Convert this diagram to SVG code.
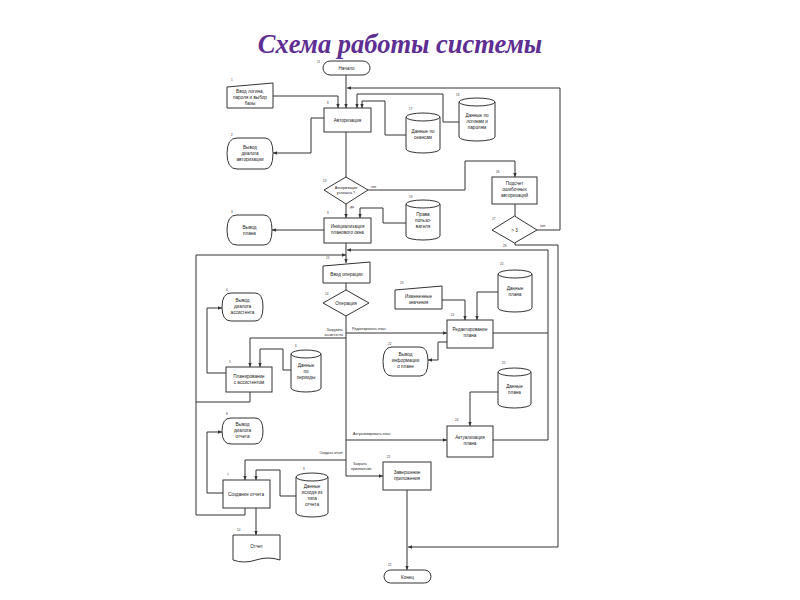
<svg xmlns="http://www.w3.org/2000/svg" width="800" height="600" viewBox="0 0 800 600">
<style>
.s{fill:#fff;stroke:#333;stroke-width:1}
.c{fill:none;stroke:#333;stroke-width:1}
.t{font-family:"Liberation Sans",Arial,sans-serif;font-size:4.6px;fill:#222;text-anchor:middle}
.n{font-family:"Liberation Sans",Arial,sans-serif;font-size:3px;fill:#333}
.l{font-family:"Liberation Sans",Arial,sans-serif;font-size:3.6px;fill:#222}
.title{font-family:"Liberation Serif","Times New Roman",serif;font-size:26.5px;font-weight:bold;font-style:italic;fill:#5e2e92;text-anchor:middle}
</style>
<defs>
<marker id="a" markerWidth="5" markerHeight="5" refX="4" refY="2.5" orient="auto" markerUnits="userSpaceOnUse">
<path d="M0,0.8 L4,2.5 L0,4.2 Z" fill="#333"/>
</marker>
</defs>
<rect width="800" height="600" fill="#fff"/>
<text class="title" x="400" y="53">Схема работы системы</text>

<g id="connectors">
<path class="c" d="M346,75 V108" marker-end="url(#a)"/>
<path class="c" d="M273,96 H338 V108" marker-end="url(#a)"/>
<path class="c" d="M537,230 H560 V88 H347" marker-end="url(#a)"/>
<path class="c" d="M459,122 H443 V94 H357 V108" marker-end="url(#a)"/>
<path class="c" d="M406,135 H385 V101 H362 V108" marker-end="url(#a)"/>
<path class="c" d="M324,118 H311 V153 H273" marker-end="url(#a)"/>
<path class="c" d="M346,132 V177"/>
<path class="c" d="M368,190 H465 V161 H515 V177" marker-end="url(#a)"/>
<path class="c" d="M515,204 V216"/>
<path class="c" d="M515,243 V245 H558 V547 H408" marker-end="url(#a)"/>
<path class="c" d="M346,204 V218" marker-end="url(#a)"/>
<path class="c" d="M406,223 H383 V208 H360 V218" marker-end="url(#a)"/>
<path class="c" d="M324,230 H272" marker-end="url(#a)"/>
<path class="c" d="M346,243 V263" marker-end="url(#a)"/>
<path class="c" d="M196,515 V255 H346" marker-end="url(#a)"/>
<path class="c" d="M548,440 V250 H347" marker-end="url(#a)"/>
<path class="c" d="M346,283 V290"/>
<path class="c" d="M346,316 V476 H383" marker-end="url(#a)"/>
<path class="c" d="M346,333 H447" marker-end="url(#a)"/>
<path class="c" d="M493,333 H548"/>
<path class="c" d="M346,338 H250 V367" marker-end="url(#a)"/>
<path class="c" d="M226,373 H207 V308 H222" marker-end="url(#a)"/>
<path class="c" d="M291,370 H283 V349 H260 V367" marker-end="url(#a)"/>
<path class="c" d="M250,392 V402 H196"/>
<path class="c" d="M346,440 H447" marker-end="url(#a)"/>
<path class="c" d="M493,440 H548"/>
<path class="c" d="M442,300 H465 V320" marker-end="url(#a)"/>
<path class="c" d="M498,292 H477 V320" marker-end="url(#a)"/>
<path class="c" d="M447,342 H438 V360 H428" marker-end="url(#a)"/>
<path class="c" d="M498,392 H470 V426" marker-end="url(#a)"/>
<path class="c" d="M346,460 H245 V480" marker-end="url(#a)"/>
<path class="c" d="M223,493 H207 V432 H222" marker-end="url(#a)"/>
<path class="c" d="M296,496 H280 V470 H256 V480" marker-end="url(#a)"/>
<path class="c" d="M256,508 V535" marker-end="url(#a)"/>
<path class="c" d="M245,508 V515 H196"/>
<path class="c" d="M407,490 V570" marker-end="url(#a)"/>
<text class="l" x="371" y="188">нет</text>
<text class="l" x="350" y="208">да</text>
<text class="l" x="540" y="227">нет</text>
<text class="l" x="352" y="330">Редактировать план</text>
<text class="l" x="343" y="331" style="text-anchor:end">Загрузить</text>
<text class="l" x="343" y="336" style="text-anchor:end">ассистента</text>
<text class="l" x="353" y="435">Актуализировать план</text>
<text class="l" x="343" y="454" style="text-anchor:end">Создать отчет</text>
<text class="l" x="353" y="465">Закрыть</text>
<text class="l" x="351" y="470">приложение</text>
</g>

<g id="start"><rect class="s" x="323" y="61" width="47" height="14" rx="7"/><text class="t" x="346.5" y="70">Начало</text><text class="n" x="317" y="63">11</text></g>
<g id="input-login"><polygon class="s" points="227,87 273,83 273,108 227,108"/><text class="t" x="250" y="93">Ввод логина,</text><text class="t" x="250" y="99">пароля и выбор</text><text class="t" x="250" y="105">базы</text><text class="n" x="231" y="81">1</text></g>
<g id="auth"><rect class="s" x="324" y="108" width="47" height="24"/><text class="t" x="347.5" y="121.5">Авторизация</text><text class="n" x="327" y="104">8</text></g>
<g id="auth-dialog"><path class="s" d="M237,138 H265 Q273,138 273,153.5 Q273,169 265,169 H237 Q227,169 227,153.5 Q227,138 237,138 Z"/><text class="t" x="250" y="149">Вывод</text><text class="t" x="250" y="155">диалога</text><text class="t" x="250" y="161">авторизации</text><text class="n" x="231" y="136">2</text></g>
<g id="db-sessions"><path class="s" d="M406,117 A17,4 0 0 1 440,117 V149 A17,4 0 0 1 406,149 Z"/><path class="c" d="M406,117 A17,4 0 0 0 440,117"/><text class="t" x="423" y="133">Данные по</text><text class="t" x="423" y="139">сеансам</text><text class="n" x="409" y="110">17</text></g>
<g id="db-logins"><path class="s" d="M459,102 A18,4 0 0 1 495,102 V137 A18,4 0 0 1 459,137 Z"/><path class="c" d="M459,102 A18,4 0 0 0 495,102"/><text class="t" x="477" y="117">Данные по</text><text class="t" x="477" y="123">логинам и</text><text class="t" x="477" y="129">паролям</text><text class="n" x="456" y="96">18</text></g>
<g id="auth-ok"><polygon class="s" points="346,177 368,190 346,204 324,190"/><text class="t" x="346" y="189" style="font-size:3.8px">Авторизация</text><text class="t" x="346" y="194" style="font-size:3.8px">успешна ?</text><text class="n" x="323" y="182">13</text></g>
<g id="count-fail"><rect class="s" x="492" y="177" width="45" height="27"/><text class="t" x="514.5" y="185">Подсчет</text><text class="t" x="514.5" y="191">ошибочных</text><text class="t" x="514.5" y="197">авторизаций</text><text class="n" x="496" y="173">26</text></g>
<g id="gt3"><polygon class="s" points="514.5,216 537,230 514.5,243 492,230"/><text class="t" x="514.5" y="231.5">&gt; 3</text><text class="n" x="492" y="220">27</text><text class="n" x="503" y="247">28</text></g>
<g id="init"><rect class="s" x="324" y="218" width="47" height="25"/><text class="t" x="347.5" y="228">Инициализация</text><text class="t" x="347.5" y="234">планового окна</text><text class="n" x="327" y="214">9</text></g>
<g id="db-rights"><path class="s" d="M406,204 A17,4 0 0 1 440,204 V236 A17,4 0 0 1 406,236 Z"/><path class="c" d="M406,204 A17,4 0 0 0 440,204"/><text class="t" x="423" y="216">Права</text><text class="t" x="423" y="222">пользо-</text><text class="t" x="423" y="228">вателя</text><text class="n" x="409" y="198">19</text></g>
<g id="show-plan"><path class="s" d="M237,215 H264 Q272,215 272,230 Q272,245 264,245 H237 Q227,245 227,230 Q227,215 237,215 Z"/><text class="t" x="249.5" y="229">Вывод</text><text class="t" x="249.5" y="235">плана</text><text class="n" x="231" y="213">3</text></g>
<g id="input-op"><polygon class="s" points="323,266 370,262 370,283 323,283"/><text class="t" x="346.5" y="276">Ввод операции</text><text class="n" x="326" y="259">15</text></g>
<g id="operation"><polygon class="s" points="346,290 369,303 346,316 323,303"/><text class="t" x="346" y="304.5">Операция</text><text class="n" x="325" y="295">14</text></g>
<g id="assist-dialog"><path class="s" d="M231,293 H255 Q263,293 263,307 Q263,321 255,321 H231 Q222,321 222,307 Q222,293 231,293 Z"/><text class="t" x="242.5" y="302">Вывод</text><text class="t" x="242.5" y="308">диалога</text><text class="t" x="242.5" y="314">ассистента</text><text class="n" x="226" y="291">4</text></g>
<g id="planning"><rect class="s" x="226" y="367" width="46" height="25"/><text class="t" x="249" y="378">Планирование</text><text class="t" x="249" y="384">с ассистентом</text><text class="n" x="229" y="363">5</text></g>
<g id="db-periods"><path class="s" d="M291,354 A15,4 0 0 1 321,354 V388 A15,4 0 0 1 291,388 Z"/><path class="c" d="M291,354 A15,4 0 0 0 321,354"/><text class="t" x="306" y="367">Данные</text><text class="t" x="306" y="373">по</text><text class="t" x="306" y="379">периоды</text><text class="n" x="295" y="347">6</text></g>
<g id="changed"><polygon class="s" points="395,290 442,286 442,309 395,309"/><text class="t" x="418.5" y="298">Измененные</text><text class="t" x="418.5" y="304">значения</text><text class="n" x="400" y="284">23</text></g>
<g id="db-plan1"><path class="s" d="M498,274 A17,4 0 0 1 532,274 V308 A17,4 0 0 1 498,308 Z"/><path class="c" d="M498,274 A17,4 0 0 0 532,274"/><text class="t" x="515" y="290">Данные</text><text class="t" x="515" y="296">плана</text><text class="n" x="500" y="265">20</text></g>
<g id="edit-plan"><rect class="s" x="447" y="320" width="46" height="28"/><text class="t" x="470" y="331">Редактирование</text><text class="t" x="470" y="337">плана</text><text class="n" x="451" y="316">21</text></g>
<g id="plan-info"><path class="s" d="M392,347 H420 Q428,347 428,361.5 Q428,376 420,376 H392 Q383,376 383,361.5 Q383,347 392,347 Z"/><text class="t" x="405.5" y="356">Вывод</text><text class="t" x="405.5" y="362">информации</text><text class="t" x="405.5" y="368">о плане</text><text class="n" x="388" y="345">22</text></g>
<g id="db-plan2"><path class="s" d="M498,372 A16.5,4 0 0 1 531,372 V404 A16.5,4 0 0 1 498,404 Z"/><path class="c" d="M498,372 A16.5,4 0 0 0 531,372"/><text class="t" x="514.5" y="388">Данные</text><text class="t" x="514.5" y="394">плана</text><text class="n" x="502" y="364">25</text></g>
<g id="actual-plan"><rect class="s" x="447" y="426" width="46" height="31"/><text class="t" x="470" y="439">Актуализация</text><text class="t" x="470" y="445">плана</text><text class="n" x="455" y="421">24</text></g>
<g id="report-dialog"><path class="s" d="M231,418 H255 Q263,418 263,431 Q263,444 255,444 H231 Q222,444 222,431 Q222,418 231,418 Z"/><text class="t" x="242.5" y="426">Вывод</text><text class="t" x="242.5" y="432">диалога</text><text class="t" x="242.5" y="438">отчета</text><text class="n" x="226" y="415">8</text></g>
<g id="make-report"><rect class="s" x="223" y="480" width="47" height="28"/><text class="t" x="246" y="495.5">Создание отчета</text><text class="n" x="227" y="476">7</text></g>
<g id="db-report"><path class="s" d="M296,477 A16,4 0 0 1 328,477 V513 A16,4 0 0 1 296,513 Z"/><path class="c" d="M296,477 A16,4 0 0 0 328,477"/><text class="t" x="312" y="488">Данные</text><text class="t" x="312" y="494">исходя из</text><text class="t" x="312" y="500">типа</text><text class="t" x="312" y="506">отчета</text><text class="n" x="303" y="470">9</text></g>
<g id="report"><path class="s" d="M233,535 H280 V560 Q268,556 256,560 Q244,564 233,560 Z"/><text class="t" x="256.5" y="548">Отчет</text><text class="n" x="237" y="531">10</text></g>
<g id="finish-app"><rect class="s" x="383" y="462" width="48" height="28"/><text class="t" x="407" y="474">Завершение</text><text class="t" x="407" y="480">приложения</text><text class="n" x="387" y="458">21</text></g>
<g id="end"><rect class="s" x="384" y="570" width="47" height="13" rx="6.5"/><text class="t" x="407.5" y="578.5">Конец</text><text class="n" x="388" y="566">22</text></g>
</svg>
